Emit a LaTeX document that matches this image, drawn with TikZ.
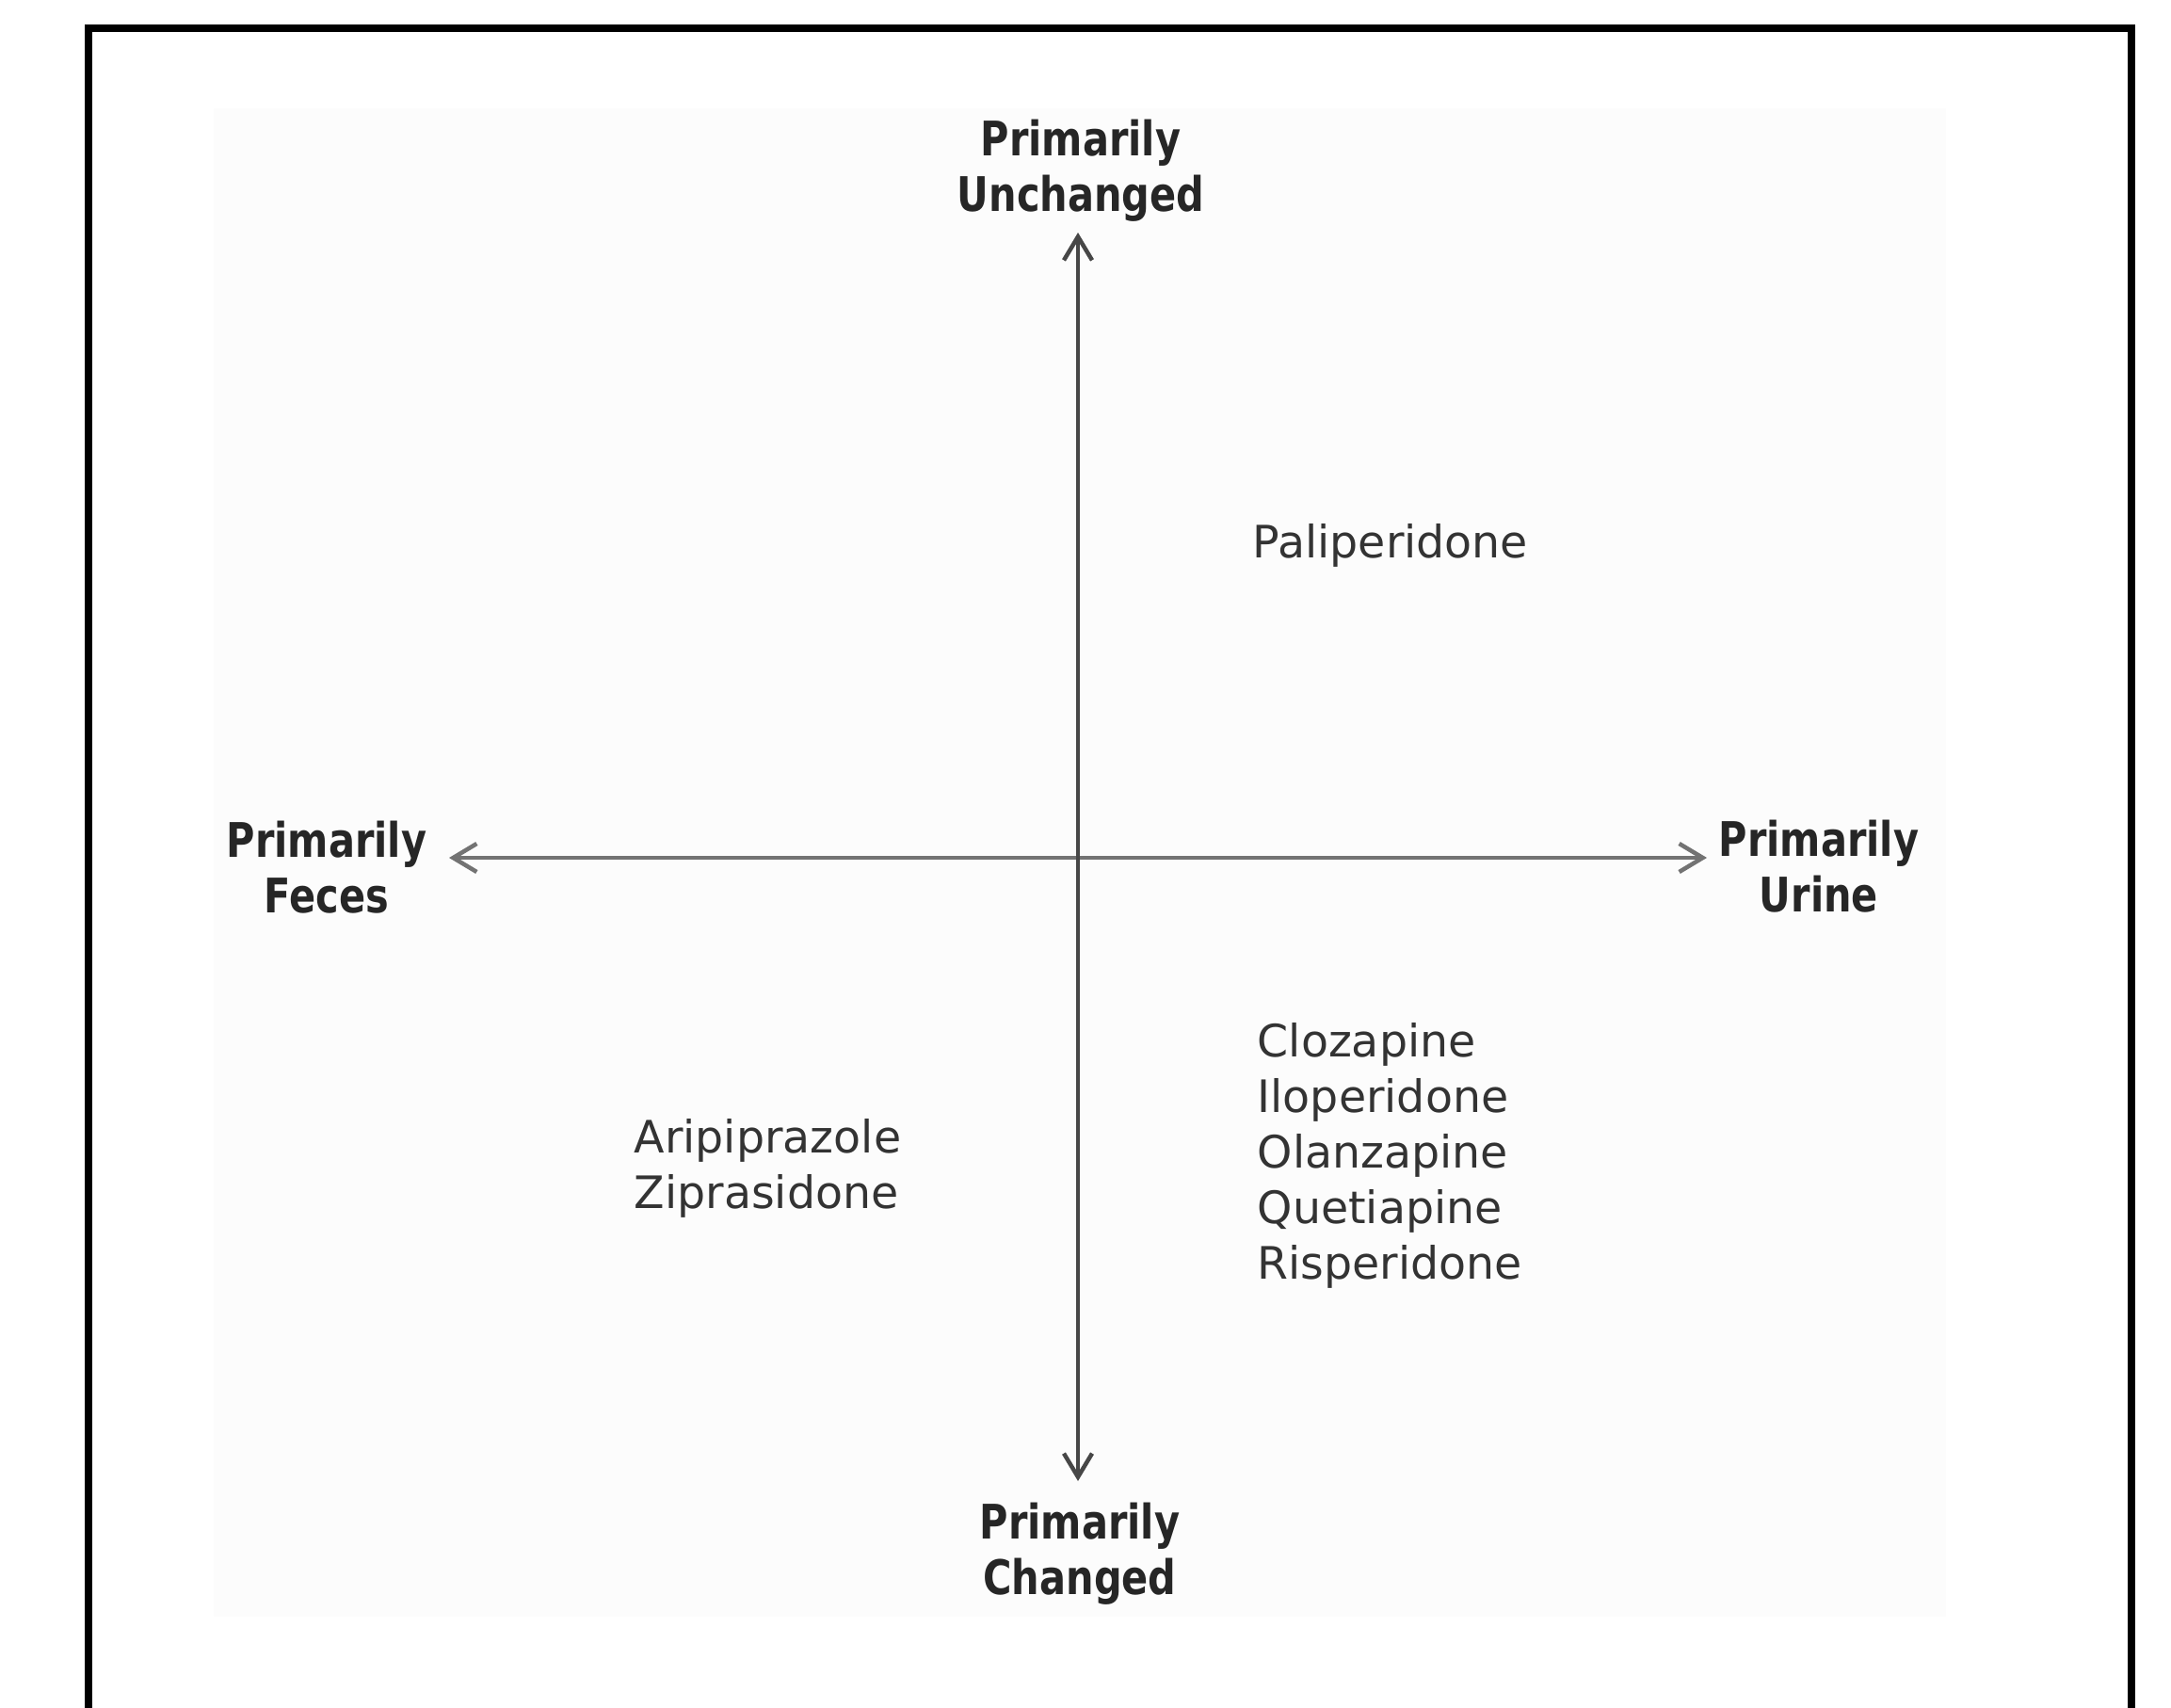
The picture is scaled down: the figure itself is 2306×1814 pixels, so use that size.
\documentclass[tikz,border=0pt]{standalone}
\usepackage{fontspec}
\setmainfont{DejaVu Sans}
\newfontfamily\axisfont[FakeStretch=0.82]{DejaVu Sans}
\usepackage{tikz}
\usetikzlibrary{positioning}
\usetikzlibrary{arrows.meta}
\usetikzlibrary{calc}
\begin{document}
\begin{tikzpicture}
[
x=0.1mm, y=-0.1mm,
lbl/.style={inner sep=0, align=center, font=\axisfont\bfseries\fontsize{14.4pt}{16.8pt}\selectfont, text=black!85},
drug/.style={inner sep=0, align=left, anchor=north west, font=\fontsize{13.5pt}{16.8pt}\selectfont, text=black!80},
ax/.style={line width=0.45mm, {Straight Barb[length=2.5mm,width=3mm]}-{Straight Barb[length=2.5mm,width=3mm]}}
]
\useasboundingbox (0,0) rectangle (2306,1814);
\fill[black!1.2] (227,115) rectangle (2067,1717);
\draw[line width=0.85mm] (94,1814) -- (94,30) -- (2264,30) -- (2264,1814);

% axes
\coordinate (o) at (1145,911);
\coordinate (up) at (1145,247);
\coordinate (down) at (1145,1573);
\coordinate (left) at (477,911);
\coordinate (right) at (1813,911);

\draw[ax, black!55] (left) -- (right);
\draw[ax, black!72] (down) -- (up);

\node[lbl, anchor=north] (unch) at (1148,126) {Primarily\\Unchanged};
\node[lbl, anchor=north] (chg) at (1147,1595) {Primarily\\Changed};
\node[lbl, anchor=north] (fec) at (347,871) {Primarily\\Feces};
\node[lbl, anchor=north] (uri) at (1932,870) {Primarily\\Urine};

% quadrants
\node[drug] (pali) at (1330,556) {Paliperidone};
\node[drug] (urin) at (1335,1086) {Clozapine\\Iloperidone\\Olanzapine\\Quetiapine\\Risperidone};
\node[drug] (fecs) at (673,1188) {Aripiprazole\\Ziprasidone};
\end{tikzpicture}
\end{document}
